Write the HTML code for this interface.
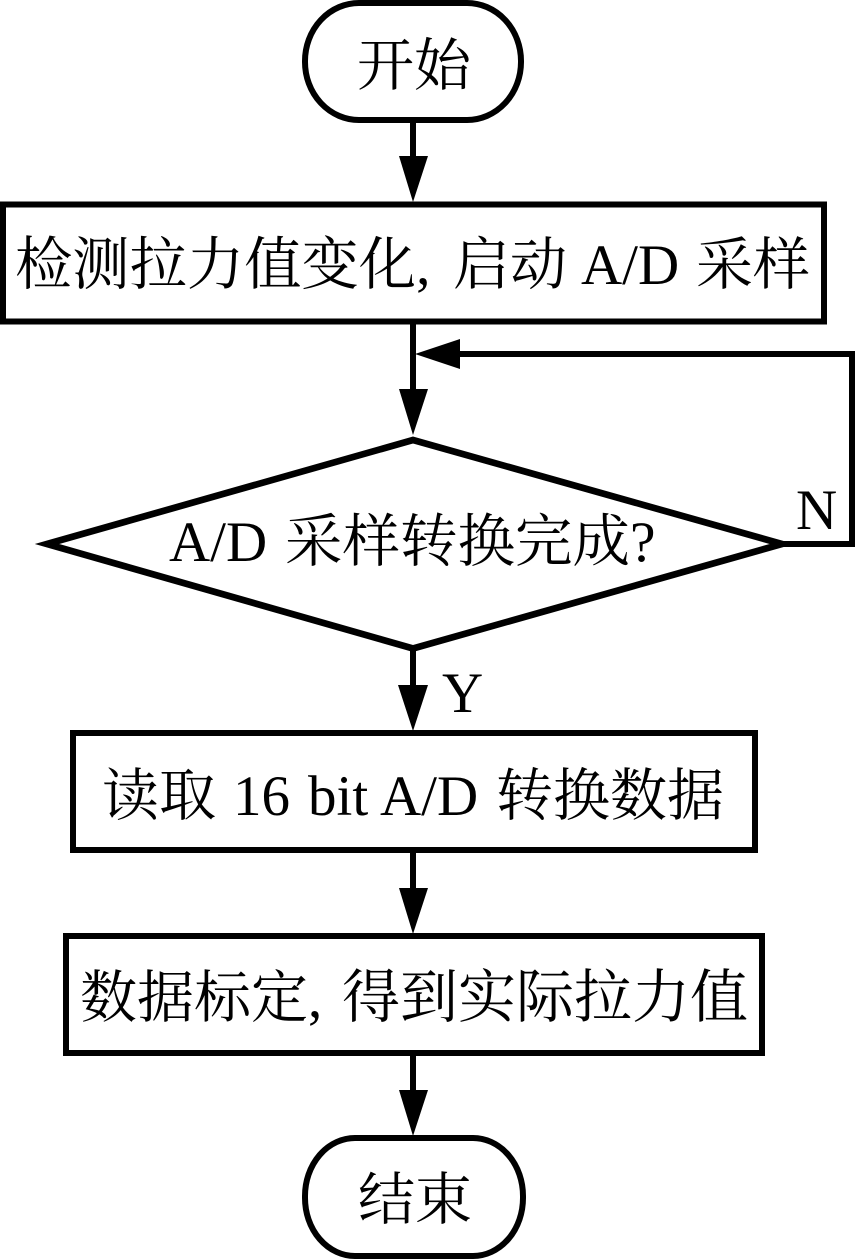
<!DOCTYPE html>
<html>
<head>
<meta charset="utf-8">
<style>
html,body{margin:0;padding:0;background:#fff;width:855px;height:1259px;overflow:hidden}
svg{display:block}
text{font-family:"Liberation Serif","Noto Serif CJK SC",serif;fill:#000;font-size:57px}
</style>
</head>
<body>
<svg width="855" height="1259" viewBox="0 0 855 1259" xmlns="http://www.w3.org/2000/svg">
<g fill="none" stroke="#000" stroke-width="6">
<rect x="305" y="3" width="216" height="117" rx="54" ry="58"/>
<rect x="3" y="204.5" width="821" height="117"/>
<polygon points="47,544 413,440 782,544 413,648.5" stroke-width="6.7" stroke-miterlimit="6"/>
<rect x="73" y="733" width="682" height="117"/>
<rect x="66" y="936" width="696" height="117"/>
<rect x="305" y="1138" width="218" height="118" rx="50" ry="58"/>
<path d="M413 120V160M413 321V392M413 650V690M413 850V892M413 1053V1094"/>
<path d="M458 354H852V544H782"/>
</g>
<g fill="#000">
<polygon points="399,156 428,156 413,202"/>
<polygon points="399,389 428,389 413,435"/>
<polygon points="398,685 428,685 413,731"/>
<polygon points="399,888 428,888 413,934"/>
<polygon points="399,1090 428,1090 413,1136"/>
<polygon points="415,354 460,339 460,369"/>
</g>
<text x="357" y="85">开始</text>
<text x="15" y="284" style="font-size:57.3px">检测拉力值变化,</text>
<text x="453" y="284">启动</text>
<text x="581" y="284">A/D</text>
<text x="696" y="284">采样</text>
<text x="169" y="561">A/D</text>
<text x="285" y="561" style="font-size:57.5px">采样转换完成?</text>
<text x="796" y="529">N</text>
<text x="442" y="712">Y</text>
<text x="102" y="815">读取</text>
<text x="233" y="815">16</text>
<text x="308" y="815">bit</text>
<text x="380" y="815">A/D</text>
<text x="496" y="815">转换数据</text>
<text x="80" y="1017">数据标定,</text>
<text x="342" y="1017" style="font-size:58px">得到实际拉力值</text>
<text x="358" y="1219">结束</text>
</svg>
</body>
</html>
